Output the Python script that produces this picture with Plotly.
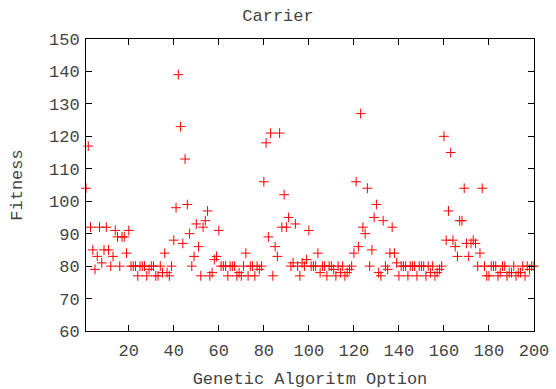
import plotly.graph_objects as go

# Fitness of each genetic-algorithm option (options 1..200)
options = list(range(1, 201))
fitness = [
    104, 117, 92, 85, 79, 83, 92, 81, 85, 92,
    85, 80, 83, 91, 89, 80, 89, 89, 84, 91,
    80, 80, 80, 77, 80, 80, 80, 77, 79, 80,
    80, 77, 77, 80, 78, 84, 78, 77, 80, 88,
    98, 139, 123, 87, 113, 99, 90, 80, 83, 93,
    86, 77, 92, 94, 97, 77, 78, 82, 83, 91,
    80, 80, 80, 77, 80, 80, 80, 77, 78, 77,
    80, 84, 77, 80, 80, 77, 80, 79, 80, 106,
    118, 89, 121, 77, 86, 83, 121, 92, 102, 92,
    95, 80, 81, 93, 80, 77, 81, 80, 82, 91,
    80, 80, 80, 84, 78, 80, 80, 77, 80, 80,
    79, 77, 80, 78, 80, 77, 78, 79, 80, 84,
    106, 86, 127, 92, 90, 104, 80, 85, 95, 99,
    78, 77, 94, 80, 79, 84, 92, 84, 81, 77,
    80, 80, 80, 77, 80, 80, 80, 77, 80, 80,
    80, 77, 80, 78, 80, 77, 78, 79, 80, 120,
    88, 97, 115, 88, 86, 83, 94, 94, 104, 87,
    83, 87, 88, 87, 80, 84, 104, 80, 77, 77,
    80, 80, 80, 77, 78, 80, 80, 77, 78, 78,
    80, 77, 78, 78, 80, 77, 80, 79, 80, 80,
]

x_ticks = [20, 40, 60, 80, 100, 120, 140, 160, 180, 200]
y_ticks = [60, 70, 80, 90, 100, 110, 120, 130, 140, 150]

FONT = "Liberation Mono, Courier New, monospace"
TEXT = "#444444"
SIZE = 17

fig = go.Figure(
    go.Scatter(
        x=options,
        y=fitness,
        mode="markers",
        marker=dict(symbol="cross-thin", size=7, line=dict(color="#ff0000", width=1)),
        cliponaxis=False,
        showlegend=False,
    )
)

axis_common = dict(
    showline=True,
    linecolor="#000000",
    linewidth=1,
    mirror="ticks",
    ticks="inside",
    ticklen=6,
    tickcolor="#000000",
    tickwidth=1,
    showgrid=False,
    zeroline=False,
    automargin=False,
    tickfont=dict(family=FONT, size=SIZE, color=TEXT),
)

fig.update_xaxes(
    range=[1, 200],
    tickvals=x_ticks,
    ticklabelstandoff=4,
    title=dict(text="Genetic Algoritm Option", font=dict(family=FONT, size=SIZE, color=TEXT), standoff=12),
    **axis_common,
)
fig.update_yaxes(
    range=[60, 150],
    tickvals=y_ticks,
    ticklabelstandoff=2,
    title=dict(text="Fitness", font=dict(family=FONT, size=SIZE, color=TEXT), standoff=22),
    **axis_common,
)

fig.update_layout(
    width=556,
    height=389,
    margin=dict(l=86, r=22, t=39, b=58),
    paper_bgcolor="white",
    plot_bgcolor="white",
    title=dict(
        text="Carrier",
        font=dict(family=FONT, size=SIZE, color=TEXT),
        x=0.5,
        xanchor="center",
        y=1 - 15 / 389,
        yanchor="middle",
    ),
)

fig.write_html("out.html")
